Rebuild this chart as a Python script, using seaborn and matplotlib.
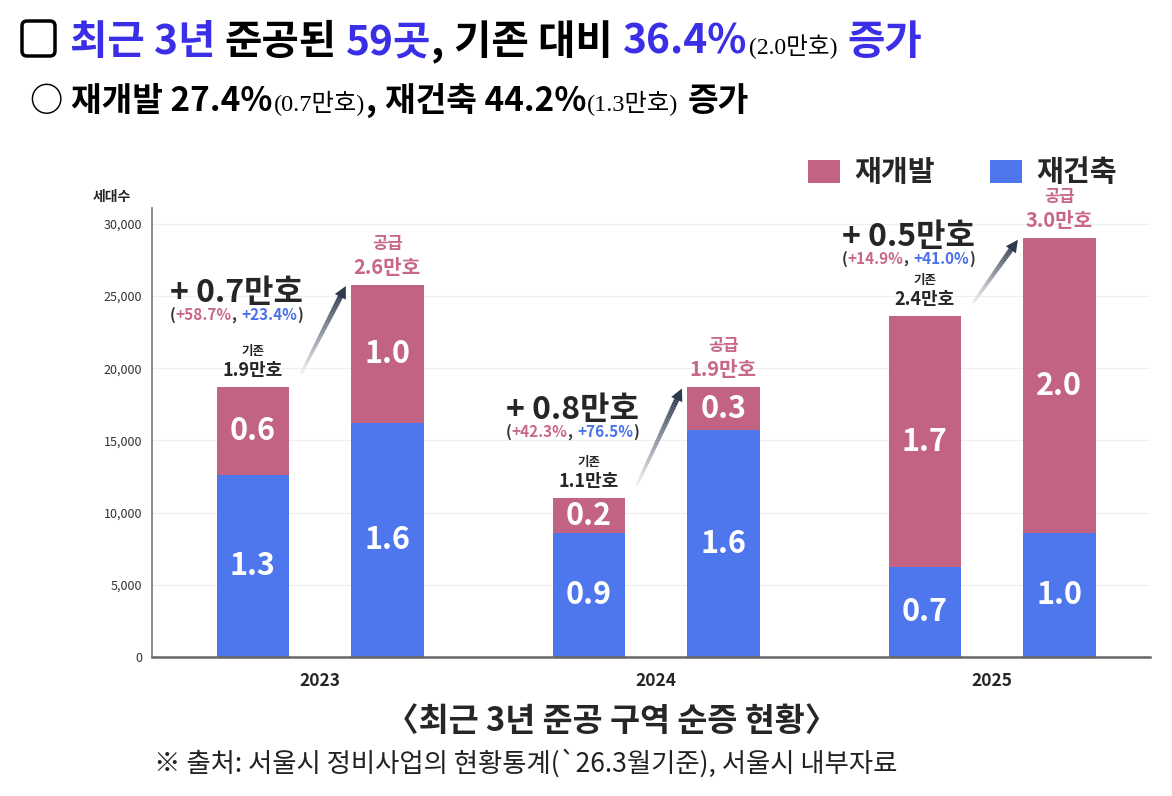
import pandas as pd
import matplotlib
matplotlib.use('Agg')
import matplotlib.pyplot as plt
import seaborn as sns
from matplotlib.patches import Rectangle, FancyBboxPatch
from matplotlib.collections import LineCollection
from matplotlib.transforms import IdentityTransform
from matplotlib.colors import to_rgb

# ---- data (세대수) ----
years = ['2023', '2024', '2025']
base_redev = [6100, 2400, 17400]        # 기존 재개발
base_rebuild = [12600, 8600, 6200]      # 기존 재건축
supply_redev = [9600, 3000, 20400]      # 공급 재개발
supply_rebuild = [16200, 15700, 8600]   # 공급 재건축

# labels as printed on the chart (만호)
base_redev_lbl = ['0.6', '0.2', '1.7']
base_rebuild_lbl = ['1.3', '0.9', '0.7']
supply_redev_lbl = ['1.0', '0.3', '2.0']
supply_rebuild_lbl = ['1.6', '1.6', '1.0']
base_total_lbl = ['1.9', '1.1', '2.4']
supply_total_lbl = ['2.6', '1.9', '3.0']
gain_lbl = ['0.7', '0.8', '0.5']
gain_redev_pct = ['+58.7%', '+42.3%', '+14.9%']
gain_rebuild_pct = ['+23.4%', '+76.5%', '+41.0%']
gain_label_y = [25200, 17100, 29100]

yticks = [0, 5000, 10000, 15000, 20000, 25000, 30000]

PINK = '#C26383'
BLUE = '#4E77EE'
PINK_TXT = '#C9678A'
BLUE_TXT = '#4A72E8'
TITLE_BLUE = '#3A2EE6'
W, H = 1172, 796

df = pd.DataFrame({
    '연도': years * 2,
    '구분': ['기존'] * 3 + ['공급'] * 3,
    '재개발': base_redev + supply_redev,
    '재건축': base_rebuild + supply_rebuild,
})
df['합계'] = df['재개발'] + df['재건축']

sns.set_style('white')
plt.rcParams['font.family'] = ['Noto Sans CJK KR', 'DejaVu Sans']
SERIF = ['Liberation Serif', 'Noto Sans CJK KR']

fig = plt.figure(figsize=(W / 100, H / 100), dpi=100)
ax = fig.add_axes([152 / W, 1 - 657 / H, (1150 - 152) / W, (657 - 208) / H])

common = dict(x='연도', hue='구분', hue_order=['기존', '공급'], width=0.8, gap=0.46,
              errorbar=None, legend=False, linewidth=0, saturation=1, ax=ax)
sns.barplot(data=df, y='합계', palette=[PINK, PINK], **common)
sns.barplot(data=df, y='재건축', palette=[BLUE, BLUE], **common)

ax.set_xlim(-0.5, 2.47)
ax.set_ylim(0, 31100)
ax.set_yticks(yticks)
ax.set_yticklabels([f'{v:,}' for v in yticks], fontsize=9, color='#333333')
ax.tick_params(axis='y', length=0, pad=7)
ax.tick_params(axis='x', length=0, pad=11)
for lab in ax.get_xticklabels():
    lab.set_fontsize(12.5)
    lab.set_fontweight('bold')
ax.set_xlabel('')
ax.set_ylabel('')
ax.yaxis.grid(True, color='#EFEFEF', lw=0.8)
ax.set_axisbelow(True)
for s in ['top', 'right']:
    ax.spines[s].set_visible(False)
ax.spines['left'].set_color('#777777')
ax.spines['left'].set_linewidth(1.2)
ax.spines['bottom'].set_color('#666666')
ax.spines['bottom'].set_linewidth(1.8)

fig.text(112 / W, 1 - 197 / H, '세대수', ha='center', va='center', fontsize=10, weight='bold')

renderer = fig.canvas.get_renderer()


def rich(x, y, parts, ha='left'):
    # x, y in display pixels, y is baseline
    arts = []
    total = 0
    for s, gap, kw in parts:
        t = fig.text(0, 0, s, transform=IdentityTransform(), va='baseline', ha='left', **kw)
        w = t.get_window_extent(renderer).width
        arts.append((t, gap, w))
        total += gap + w
    x0 = x - total / 2 if ha == 'center' else x
    for t, gap, w in arts:
        x0 += gap
        t.set_position((x0, y))
        x0 += w


# bar value labels
seg_labels = [(base_redev_lbl, base_rebuild_lbl), (supply_redev_lbl, supply_rebuild_lbl)]
for k in range(2):
    for i, (tb, bb) in enumerate(zip(ax.containers[k], ax.containers[k + 2])):
        cx = tb.get_x() + tb.get_width() / 2
        hb, ht = bb.get_height(), tb.get_height()
        ax.text(cx, hb / 2, seg_labels[k][1][i], ha='center', va='center',
                color='white', fontsize=22, weight='bold')
        ax.text(cx, (hb + ht) / 2, seg_labels[k][0][i], ha='center', va='center',
                color='white', fontsize=22, weight='bold')

# top labels, arrows, gain text
dark = to_rgb('#2F3A4E')
light = to_rgb('#F2F3F5')
for i in range(3):
    b0 = ax.containers[0][i]
    b1 = ax.containers[1][i]
    c0 = b0.get_x() + b0.get_width() / 2
    c1 = b1.get_x() + b1.get_width() / 2
    h0, h1 = b0.get_height(), b1.get_height()

    ax.annotate(f'{base_total_lbl[i]}만호', xy=(c0, h0), xytext=(0, 5), textcoords='offset points',
                ha='center', va='bottom', fontsize=13, weight='bold')
    ax.annotate('기존', xy=(c0, h0), xytext=(0, 21), textcoords='offset points',
                ha='center', va='bottom', fontsize=9, weight='bold')
    ax.annotate(f'{supply_total_lbl[i]}만호', xy=(c1, h1), xytext=(0, 5), textcoords='offset points',
                ha='center', va='bottom', fontsize=14.5, weight='bold', color=PINK_TXT)
    ax.annotate('공급', xy=(c1, h1), xytext=(0, 23), textcoords='offset points',
                ha='center', va='bottom', fontsize=12, weight='bold', color=PINK_TXT)

    # gradient arrow
    x_s, y_s = b0.get_x() + b0.get_width() + 0.035, h0 + 900
    x_e, y_e = b1.get_x() - 0.015, h1 - 100
    n = 40
    segs, cols, lws = [], [], []
    for j in range(n):
        f0, f1 = j / n * 0.9, (j + 1) / n * 0.9
        segs.append([(x_s + (x_e - x_s) * f0, y_s + (y_e - y_s) * f0),
                     (x_s + (x_e - x_s) * f1, y_s + (y_e - y_s) * f1)])
        f = (j + 0.5) / n
        cols.append(tuple(light[c] + (dark[c] - light[c]) * f for c in range(3)))
        lws.append(2.0 + 2.0 * f)
    ax.add_collection(LineCollection(segs, colors=cols, linewidths=lws, capstyle='butt'))
    ax.annotate('', xy=(x_e, y_e),
                xytext=(x_s + (x_e - x_s) * 0.8, y_s + (y_e - y_s) * 0.8),
                arrowprops=dict(arrowstyle='-|>', mutation_scale=22, color=dark, lw=0,
                                shrinkA=0, shrinkB=0))

    gx = c0 - 0.05
    ax.text(gx, gain_label_y[i], f'+ {gain_lbl[i]}만호', ha='center', va='center',
            fontsize=23, weight='bold')
    px, py = ax.transData.transform((gx, gain_label_y[i]))
    st = dict(fontsize=11, weight='bold')
    rich(px, py - 27, [('(', 0, dict(color='#333333', **st)),
                       (gain_redev_pct[i], 0, dict(color=PINK_TXT, **st)),
                       (',', 0, dict(color='#333333', **st)),
                       (gain_rebuild_pct[i], 5, dict(color=BLUE_TXT, **st)),
                       (')', 0, dict(color='#333333', **st))], ha='center')

# legend
for x0, col, name in [(808, PINK, '재개발'), (990, BLUE, '재건축')]:
    fig.add_artist(Rectangle((x0, H - 183), 32, 23, transform=IdentityTransform(),
                             facecolor=col, edgecolor='none'))
    fig.text((x0 + 46) / W, 1 - 172 / H, name, ha='left', va='center', fontsize=21, weight='bold')

# headline
fig.add_artist(FancyBboxPatch((22, H - 56), 33, 35, boxstyle='round,pad=0,rounding_size=5',
                              transform=IdentityTransform(), facecolor='white',
                              edgecolor='black', lw=2.5))
big = dict(fontsize=29.3, weight='bold')
rich(70, H - 54, [('최근 3년', 0, dict(color=TITLE_BLUE, **big)),
                  ('준공된', 9, dict(color='black', **big)),
                  ('59곳', 9, dict(color=TITLE_BLUE, **big)),
                  (',', 0, dict(color='black', **big)),
                  ('기존 대비', 10, dict(color='black', **big)),
                  ('36.4%', 10, dict(color=TITLE_BLUE, **big)),
                  ('(2.0만호)', 2, dict(color='black', fontsize=17, family=SERIF)),
                  ('증가', 10, dict(color=TITLE_BLUE, **big))])

mid = dict(fontsize=24, weight='bold', color='black')
small = dict(fontsize=17.5, color='black', family=SERIF)
rich(30, H - 111, [('○ 재개발 27.4%', 0, mid),
                   ('(0.7만호)', 1, small),
                   (',', 0, mid),
                   ('재건축 44.2%', 9, mid),
                   ('(1.3만호)', 1, small),
                   ('증가', 9, mid)])

fig.text(612 / W, 1 - 722 / H, '〈최근 3년 준공 구역 순증 현황〉', ha='center', va='center',
         fontsize=23.5, weight='bold')
fig.text(154 / W, 1 - 763 / H, '※ 출처: 서울시 정비사업의 현황통계(`26.3월기준), 서울시 내부자료',
         ha='left', va='center', fontsize=19, color='#222222')

fig.savefig('out.png', dpi=100)
